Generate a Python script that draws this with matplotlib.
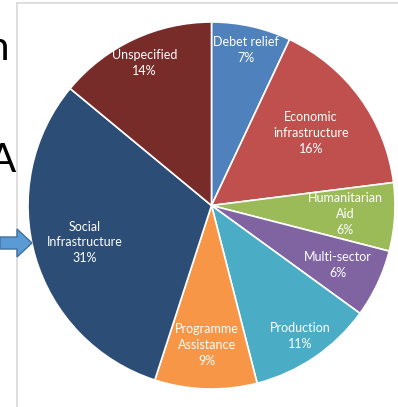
import matplotlib
matplotlib.use("Agg")
import numpy as np
from matplotlib import patches, pyplot as plt

# slice data, clockwise from 12 o'clock
sectors = ["Debet relief", "Economic\ninfrastructure", "Humanitarian\nAid", "Multi-sector",
           "Production", "Programme\nAssistance", "Social\nInfrastructure", "Unspecified"]
shares = [7, 16, 6, 6, 11, 9, 31, 14]
colors = ["#4F81BD", "#C0504D", "#9BBB59", "#8064A2",
          "#4BACC6", "#F79646", "#2C4D75", "#772C2A"]
# how far out each label sits (fraction of radius)
label_dist = [0.87, 0.67, 0.73, 0.76, 0.86, 0.76, 0.72, 0.86]

W, H = 398, 407
fig = plt.figure(figsize=(W / 100, H / 100), dpi=100)
ax = fig.add_axes([0, 0, 1, 1])

cx, cy, r = 211.5, H - 205.5, 183.5
wedges, _ = ax.pie(shares, colors=colors, startangle=90, counterclock=False,
                   center=(cx, cy), radius=r, frame=True,
                   wedgeprops=dict(edgecolor="white", linewidth=1.2))
ax.set_xlim(0, W)
ax.set_ylim(0, H)
ax.set_aspect("equal")
ax.axis("off")

for w, name, pct, d in zip(wedges, sectors, shares, label_dist):
    mid = np.deg2rad((w.theta1 + w.theta2) / 2)
    x = cx + d * r * np.cos(mid)
    y = cy + d * r * np.sin(mid)
    ax.text(x, y, f"{name}\n{pct}%", ha="center", va="center", color="white",
            fontsize=9, family="Lato", linespacing=1.38)

# chart area frame (light gray)
ax.plot([17, 17], [0, H - 2.5], color="#D9D9D9", lw=1.2, zorder=0)
ax.plot([17, W], [H - 2.5, H - 2.5], color="#D9D9D9", lw=1.2, zorder=0)

# slide pieces cut off on the left
ax.text(9, H - 48, "n", ha="right", va="center", fontsize=29, family="Lato", color="black")
ax.text(16, H - 160, "A", ha="right", va="center", fontsize=29, family="Lato", color="black")
arrow = patches.Polygon([(0, H - 237), (17, H - 237), (17, H - 229), (32, H - 243),
                         (17, H - 257), (17, H - 249), (0, H - 249)],
                        closed=True, facecolor="#5B9BD5", edgecolor="#41719C", lw=1, zorder=5)
ax.add_patch(arrow)

fig.savefig("out.png", dpi=100)
